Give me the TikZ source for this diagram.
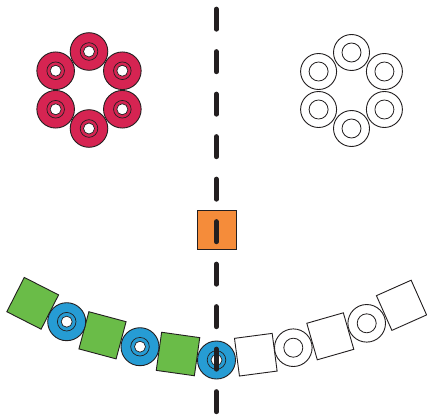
\documentclass[tikz,border=0pt]{standalone}
\usepackage{tikz}
\usetikzlibrary{calc}
\definecolor{ringred}{RGB}{214,36,82}
\definecolor{ringblue}{RGB}{38,156,212}
\definecolor{boxgreen}{RGB}{106,188,72}
\definecolor{boxorange}{RGB}{245,140,58}
\definecolor{inkgray}{RGB}{35,31,32}

\begin{document}
\begin{tikzpicture}[x=1pt,y=-1pt,
  ring/.style={circle,draw=inkgray,line width=0.9pt,minimum size=37.6pt,inner sep=0pt},
  bead/.style={rectangle,draw=inkgray,line width=0.9pt,minimum size=38.5pt,inner sep=0pt},
  cut/.style={draw=inkgray,line width=4.7pt,line cap=round,dash pattern=on 20.3pt off 22.2pt}]
  \useasboundingbox (0,0) rectangle (427,417);

  %% Six red rings round a hexagon
  \foreach \a [count=\i] in {-90,-30,30,90,150,210}
  {
    \node[ring,fill=ringred] (RR\i) at ($(89,90)+(\a:38.5)$) {};
    \draw[draw=inkgray,line width=0.7pt] (RR\i.center) circle (8.8pt);
    \draw[draw=inkgray,line width=0.7pt,fill=white] (RR\i.center) circle (5.5pt);
  }

  %% Six empty rings round a hexagon
  \foreach \a [count=\i] in {-90,-30,30,90,150,210}
  {
    \node[ring,fill=white,minimum size=36pt] (WR\i) at ($(351.5,90.5)+(\a:38)$) {};
    \draw[draw=inkgray,line width=0.8pt] (WR\i.center) circle (9.5pt);
  }

  %% Orange box on the line
  \node[bead,fill=boxorange,minimum size=39pt] (ORG) at (216.5,229.5) {};

  %% Chain, left half
  \foreach \x/\y/\r [count=\i] in {32.7/303.3/-27, 102.5/335.3/-15, 178/354/-8}
  {
    \node[bead,fill=boxgreen,rotate=\r] (GS\i) at (\x,\y) {};
  }
  \foreach \x/\y [count=\i] in {66.7/321.7, 140/346.7, 216.5/360}
  {
    \node[ring,fill=ringblue,minimum size=38pt] (BR\i) at (\x,\y) {};
    \draw[draw=inkgray,line width=0.7pt] (BR\i.center) circle (9.3pt);
    \draw[draw=inkgray,line width=0.7pt,fill=white] (BR\i.center) circle (5.5pt);
  }

  %% Chain, right half
  \foreach \x/\y/\r [count=\i] in {255.8/354.7/7.5, 330.3/336.3/16, 401.5/305.3/24}
  {
    \node[bead,fill=white,minimum size=38pt,rotate=\r] (WS\i) at (\x,\y) {};
  }
  \foreach \x/\y [count=\i] in {293.3/347.7, 366.7/323.3}
  {
    \node[ring,fill=white] (WC\i) at (\x,\y) {};
    \draw[draw=inkgray,line width=0.8pt] (WC\i.center) circle (9.5pt);
  }

  %% Dashed dividing line
  \coordinate (LTOP) at (216.3,9);
  \coordinate (LBOT) at (216.3,417);
  \draw[cut] (LTOP) -- (LBOT);

\end{tikzpicture}
\end{document}
